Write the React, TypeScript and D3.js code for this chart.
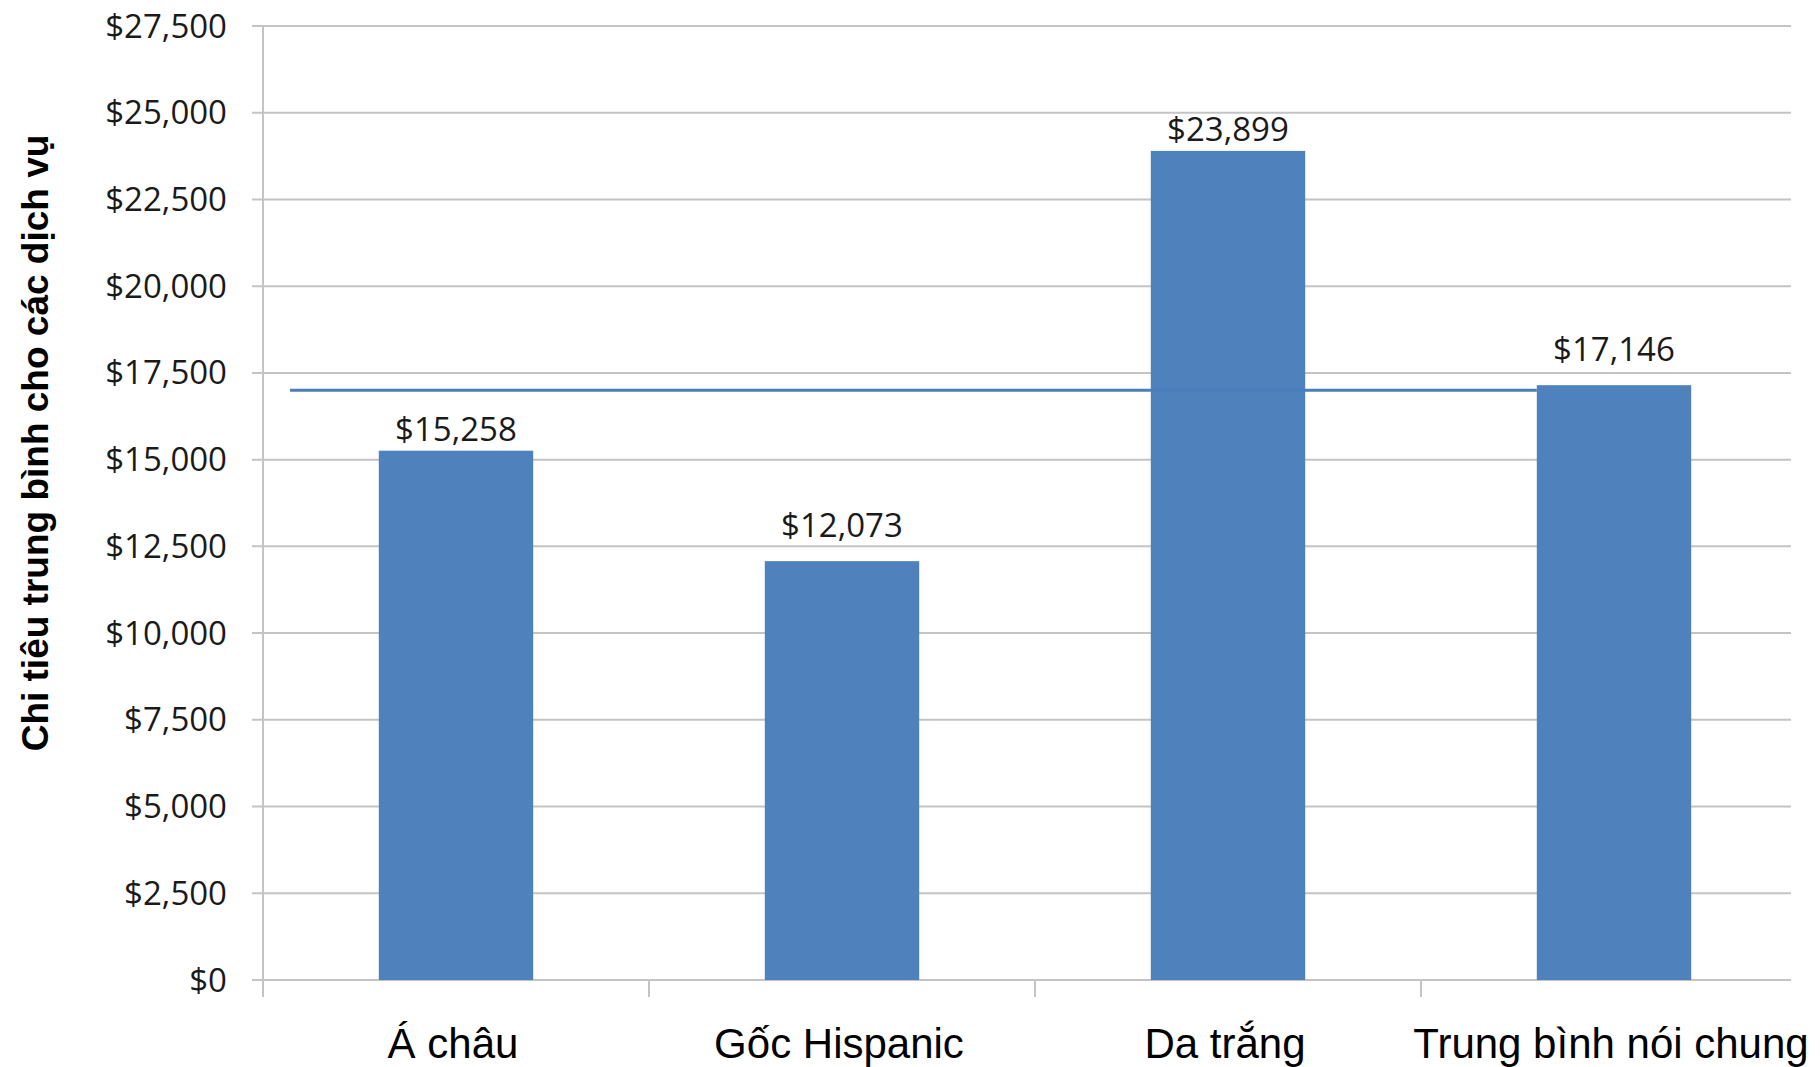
import React from "react";
import * as d3 from "d3";

const categories = ["Á châu", "Gốc Hispanic", "Da trắng", "Trung bình nói chung"];
const values = [15258, 12073, 23899, 17146];
const valueLabels = ["$15,258", "$12,073", "$23,899", "$17,146"];
const yTicks = [0, 2500, 5000, 7500, 10000, 12500, 15000, 17500, 20000, 22500, 25000, 27500];
const averageLineValue = 17000;
const yTitle = "Chi tiêu trung bình cho các dịch vụ";

const W = 1820;
const H = 1067;
const axisX = 263;
const bandEnd = 1807;
const gridEnd = 1791;
const y0 = 980;
const yTop = 26;
const labelGap = [10, 24, 10, 24];

export default function App() {
  const x = d3.scaleBand<string>().domain(categories).range([axisX, bandEnd]).paddingInner(0).paddingOuter(0);
  const y = d3.scaleLinear().domain([0, 27500]).range([y0, yTop]);
  const bw = x.bandwidth();
  const barW = bw * 0.4;
  const fmt = d3.format("$,");
  const blue = "#4f81bd";
  const lastLeft = (x(categories[3]) as number) + (bw - barW) / 2;

  return (
    <svg width={W} height={H} style={{ position: "absolute", left: 0, top: 0, background: "#fff" }}>
      <rect x={0} y={0} width={W} height={H} fill="#fff" />
      {/* gridlines */}
      {yTicks.map((t) => (
        <line key={"g" + t} x1={axisX - 11} x2={gridEnd} y1={y(t)} y2={y(t)} stroke="#c4c4c4" strokeWidth={2} />
      ))}
      {/* y axis line */}
      <line x1={axisX} x2={axisX} y1={yTop} y2={y0 + 17} stroke="#c4c4c4" strokeWidth={2} />
      {/* x ticks */}
      {categories.map((c) => (
        <line key={"xt" + c} x1={x(c) as number} x2={x(c) as number} y1={y0} y2={y0 + 17} stroke="#c4c4c4" strokeWidth={2} />
      ))}
      {/* y tick labels */}
      {yTicks.map((t) => (
        <text key={"yl" + t} x={227} y={y(t) + 11.5} textAnchor="end" fontFamily="'Open Sans', sans-serif" fontSize={33} fill="#1a1a1a">
          {fmt(t)}
        </text>
      ))}
      {/* bars */}
      {categories.map((c, i) => (
        <rect key={"b" + c} x={(x(c) as number) + (bw - barW) / 2} y={y(values[i])} width={barW} height={y0 - y(values[i])} fill={blue} />
      ))}
      {/* average line */}
      <line x1={axisX + 27} x2={lastLeft} y1={y(averageLineValue)} y2={y(averageLineValue)} stroke="#4a7ebb" strokeWidth={3} />
      {/* value labels */}
      {categories.map((c, i) => (
        <text key={"v" + c} x={(x(c) as number) + bw / 2} y={y(values[i]) - labelGap[i]} textAnchor="middle" fontFamily="'Open Sans', sans-serif" fontSize={33} fill="#1a1a1a">
          {valueLabels[i]}
        </text>
      ))}
      {/* category labels */}
      {categories.map((c) => (
        <text key={"c" + c} x={(x(c) as number) + bw / 2 - 3} y={1058} textAnchor="middle" fontFamily="'Liberation Sans', Arial, sans-serif" fontSize={42} fill="#000">
          {c}
        </text>
      ))}
      {/* y title */}
      <text transform={`translate(48, 443) rotate(-90)`} textAnchor="middle" fontFamily="'Liberation Sans', Arial, sans-serif" fontWeight="bold" fontSize={37} fill="#000">
        {yTitle}
      </text>
    </svg>
  );
}
